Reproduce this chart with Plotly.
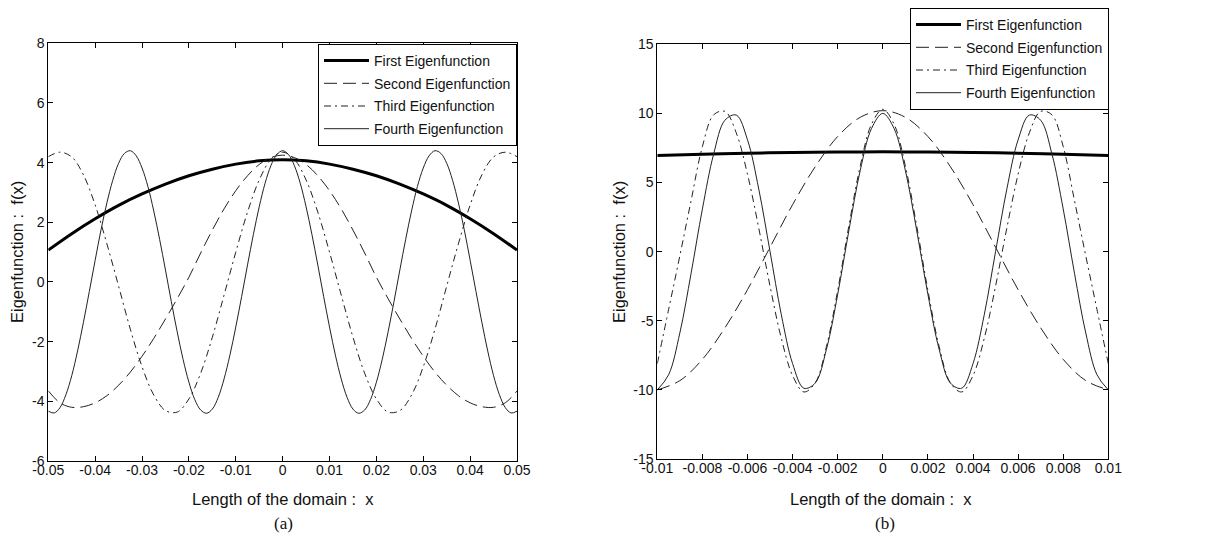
import plotly.graph_objects as go

# ---------------- panel (a) ----------------
xa_first = [-0.05, -0.045, -0.04, -0.035, -0.03, -0.025, -0.02, -0.015, -0.01, -0.005, 0.0,
            0.005, 0.01, 0.015, 0.02, 0.025, 0.03, 0.035, 0.04, 0.045, 0.05]
ya_first = [1.07, 1.62, 2.12, 2.57, 2.95, 3.28, 3.56, 3.78, 3.95, 4.06, 4.1,
            4.06, 3.95, 3.78, 3.56, 3.28, 2.95, 2.57, 2.12, 1.62, 1.07]

xa_mid = [-0.05, -0.0475, -0.045, -0.0425, -0.04, -0.0375, -0.035, -0.0325, -0.03, -0.0275,
          -0.025, -0.0225, -0.02, -0.0175, -0.015, -0.0125, -0.01, -0.0075, -0.005, -0.0025,
          0.0, 0.0025, 0.005, 0.0075, 0.01, 0.0125, 0.015, 0.0175, 0.02, 0.0225,
          0.025, 0.0275, 0.03, 0.0325, 0.035, 0.0375, 0.04, 0.0425, 0.045, 0.0475, 0.05]
ya_second = [-3.65, -4.05, -4.2, -4.18, -4.05, -3.81, -3.46, -3.02, -2.49, -1.89,
             -1.24, -0.56, 0.16, 0.97, 1.74, 2.45, 3.06, 3.56, 3.94, 4.17,
             4.25, 4.17, 3.94, 3.56, 3.06, 2.45, 1.74, 0.97, 0.16, -0.56,
             -1.24, -1.89, -2.49, -3.02, -3.46, -3.81, -4.05, -4.18, -4.2, -4.05, -3.65]
ya_third = [4.2, 4.35, 4.19, 3.59, 2.58, 1.28, -0.14, -1.58, -2.84, -3.79,
            -4.31, -4.36, -3.92, -3.06, -1.85, -0.44, 1.0, 2.34, 3.42, 4.11,
            4.35, 4.11, 3.42, 2.34, 1.0, -0.44, -1.85, -3.06, -3.92, -4.36,
            -4.31, -3.79, -2.84, -1.58, -0.14, 1.28, 2.58, 3.59, 4.19, 4.35, 4.2]

xa_fourth = [-0.05, -0.04875, -0.0475, -0.04625, -0.045, -0.04375, -0.0425, -0.04125, -0.04, -0.03875,
             -0.0375, -0.03625, -0.035, -0.03375, -0.0325, -0.03125, -0.03, -0.02875, -0.0275, -0.02625,
             -0.025, -0.02375, -0.0225, -0.02125, -0.02, -0.01875, -0.0175, -0.01625, -0.015, -0.01375,
             -0.0125, -0.01125, -0.01, -0.00875, -0.0075, -0.00625, -0.005, -0.00375, -0.0025, -0.00125,
             0.0, 0.00125, 0.0025, 0.00375, 0.005, 0.00625, 0.0075, 0.00875, 0.01, 0.01125,
             0.0125, 0.01375, 0.015, 0.01625, 0.0175, 0.01875, 0.02, 0.02125, 0.0225, 0.02375,
             0.025, 0.02625, 0.0275, 0.02875, 0.03, 0.03125, 0.0325, 0.03375, 0.035, 0.03625,
             0.0375, 0.03875, 0.04, 0.04125, 0.0425, 0.04375, 0.045, 0.04625, 0.0475, 0.04875, 0.05]
ya_fourth = [-4.33, -4.39, -4.21, -3.78, -3.14, -2.31, -1.35, -0.32, 0.73, 1.75,
             2.65, 3.41, 3.98, 4.31, 4.4, 4.23, 3.82, 3.2, 2.38, 1.43,
             0.4, -0.66, -1.67, -2.59, -3.36, -3.94, -4.29, -4.4, -4.26, -3.87,
             -3.25, -2.45, -1.51, -0.49, 0.57, 1.59, 2.52, 3.31, 3.9, 4.27,
             4.4, 4.27, 3.9, 3.31, 2.52, 1.59, 0.57, -0.49, -1.51, -2.45,
             -3.25, -3.87, -4.26, -4.4, -4.29, -3.94, -3.36, -2.59, -1.67, -0.66,
             0.4, 1.43, 2.38, 3.2, 3.82, 4.23, 4.4, 4.31, 3.98, 3.41,
             2.65, 1.75, 0.73, -0.32, -1.35, -2.31, -3.14, -3.78, -4.21, -4.39, -4.33]

xa_ticks = [-0.05, -0.04, -0.03, -0.02, -0.01, 0.0, 0.01, 0.02, 0.03, 0.04, 0.05]
xa_labels = ["-0.05", "-0.04", "-0.03", "-0.02", "-0.01", "0", "0.01", "0.02", "0.03", "0.04", "0.05"]
ya_ticks = [-6, -4, -2, 0, 2, 4, 6, 8]
ya_labels = ["-6", "-4", "-2", "0", "2", "4", "6", "8"]

# ---------------- panel (b) ----------------
xb_first = [-0.01, -0.008, -0.006, -0.004, -0.002, 0.0, 0.002, 0.004, 0.006, 0.008, 0.01]
yb_first = [6.95, 7.05, 7.12, 7.18, 7.21, 7.22, 7.21, 7.18, 7.12, 7.05, 6.95]

xb_second = [-0.01, -0.009, -0.008, -0.007, -0.006, -0.005, -0.004, -0.003, -0.002, -0.001, 0.0,
             0.001, 0.002, 0.003, 0.004, 0.005, 0.006, 0.007, 0.008, 0.009, 0.01]
yb_second = [-10.0, -9.33, -7.79, -5.51, -2.75, 0.32, 3.4, 6.14, 8.33, 9.72, 10.2,
             9.72, 8.33, 6.14, 3.4, 0.32, -2.75, -5.51, -7.79, -9.33, -10.0]

xb_fine = [-0.01, -0.0095, -0.009, -0.0085, -0.008, -0.0075, -0.007, -0.0065, -0.006, -0.0055,
           -0.005, -0.0045, -0.004, -0.0035, -0.003, -0.0025, -0.002, -0.0015, -0.001, -0.0005,
           0.0, 0.0005, 0.001, 0.0015, 0.002, 0.0025, 0.003, 0.0035, 0.004, 0.0045,
           0.005, 0.0055, 0.006, 0.0065, 0.007, 0.0075, 0.008, 0.0085, 0.009, 0.0095, 0.01]
yb_third = [-8.1, -4.2, -0.3, 3.7, 7.6, 9.9, 10.15, 8.6, 5.6, 1.7,
            -2.5, -6.27, -8.97, -10.15, -9.5, -6.87, -2.8, 1.9, 6.2, 9.22,
            10.3, 9.22, 6.2, 1.9, -2.8, -6.87, -9.5, -10.15, -8.97, -6.27,
            -2.5, 1.7, 5.6, 8.6, 10.15, 9.9, 7.6, 3.7, -0.3, -4.2, -8.1]
yb_fourth = [-10.0, -8.91, -5.88, -1.56, 3.09, 7.07, 9.51, 9.88, 8.09, 4.52,
             0.0, -4.56, -8.1, -9.88, -9.51, -7.07, -3.09, 1.57, 5.88, 8.91,
             10.0, 8.91, 5.88, 1.57, -3.09, -7.07, -9.51, -9.88, -8.1, -4.56,
             0.0, 4.52, 8.09, 9.88, 9.51, 7.07, 3.09, -1.56, -5.88, -8.91, -10.0]

xb_ticks = [-0.01, -0.008, -0.006, -0.004, -0.002, 0.0, 0.002, 0.004, 0.006, 0.008, 0.01]
xb_labels = ["-0.01", "-0.008", "-0.006", "-0.004", "-0.002", "0", "0.002", "0.004", "0.006", "0.008", "0.01"]
yb_ticks = [-15, -10, -5, 0, 5, 10, 15]
yb_labels = ["-15", "-10", "-5", "0", "5", "10", "15"]

names = ["First Eigenfunction", "Second Eigenfunction", "Third Eigenfunction", "Fourth Eigenfunction"]
styles = [
    dict(color="black", width=3, dash="solid"),
    dict(color="#222", width=1, dash="13px,6px"),
    dict(color="#222", width=1, dash="7px,4px,2px,4px"),
    dict(color="#222", width=1, dash="solid"),
]

FONT = "Liberation Sans, Arial, sans-serif"

# page body has an 8px margin, so the figure is a little smaller than the window
W, H, OFF = 1205, 528, 8


def px(x):
    return (x - OFF) / W


def py(y):
    return 1 - (y - OFF) / H


fig = go.Figure()

panel_a = [(xa_first, ya_first), (xa_mid, ya_second), (xa_mid, ya_third), (xa_fourth, ya_fourth)]
panel_b = [(xb_first, yb_first), (xb_second, yb_second), (xb_fine, yb_third), (xb_fine, yb_fourth)]

for i, ((x, y), name, st) in enumerate(zip(panel_a, names, styles)):
    fig.add_trace(go.Scatter(x=x, y=y, mode="lines", name=name, line=dict(shape="spline", **st),
                             xaxis="x", yaxis="y", legend="legend", legendgroup=f"a{i}"))
for i, ((x, y), name, st) in enumerate(zip(panel_b, names, styles)):
    fig.add_trace(go.Scatter(x=x, y=y, mode="lines", name=name, line=dict(shape="spline", **st),
                             xaxis="x2", yaxis="y2", legend="legend2", legendgroup=f"b{i}"))

axis_style = dict(
    showline=True, linecolor="black", linewidth=1, mirror="allticks",
    ticks="inside", ticklen=5, tickcolor="black", showgrid=False, zeroline=False,
    automargin=False, tickfont=dict(family=FONT, size=14, color="#111"),
)

legend_style = dict(
    bgcolor="white", bordercolor="black", borderwidth=1,
    font=dict(family=FONT, size=14, color="#111"),
    xanchor="right", yanchor="top", itemwidth=45, tracegroupgap=1.5,
)

fig.update_layout(
    width=W, height=H,
    margin=dict(l=0, r=0, t=0, b=0, autoexpand=False),
    paper_bgcolor="white", plot_bgcolor="white",
    showlegend=True,
    xaxis=dict(domain=[px(48.3), px(517)], range=[-0.05, 0.05], tickvals=xa_ticks, ticktext=xa_labels,
               anchor="y", ticklabelstandoff=-4, **axis_style),
    yaxis=dict(domain=[py(461), py(43.3)], range=[-6, 8], tickvals=ya_ticks, ticktext=ya_labels,
               anchor="x", **axis_style),
    xaxis2=dict(domain=[px(657.3), px(1108.3)], range=[-0.01, 0.01], tickvals=xb_ticks, ticktext=xb_labels,
                anchor="y2", ticklabelstandoff=-4, **axis_style),
    yaxis2=dict(domain=[py(459), py(44.3)], range=[-15, 15], tickvals=yb_ticks, ticktext=yb_labels,
                anchor="x2", **axis_style),
    legend=dict(x=px(517), y=py(44), **legend_style),
    legend2=dict(x=px(1109), y=py(8), **legend_style),
)

title_font = dict(family=FONT, size=16.5, color="#111")
cap_font = dict(family="Liberation Serif, Times New Roman, serif", size=17, color="#111")
for xc, xcap, cap in [(283, 283, "(a)"), (881, 885, "(b)")]:
    fig.add_annotation(x=px(xc), y=py(499), xref="paper", yref="paper", text="Length of the domain :  x",
                       xanchor="center", yanchor="middle", showarrow=False, font=title_font)
    fig.add_annotation(x=px(xcap), y=py(523), xref="paper", yref="paper", text=cap,
                       xanchor="center", yanchor="middle", showarrow=False, font=cap_font)
for xc in [17, 619]:
    fig.add_annotation(x=px(xc), y=py(252), xref="paper", yref="paper", text="Eigenfunction :  f(x)",
                       xanchor="center", yanchor="middle", textangle=-90, showarrow=False, font=title_font)

fig.write_html("out.html")
